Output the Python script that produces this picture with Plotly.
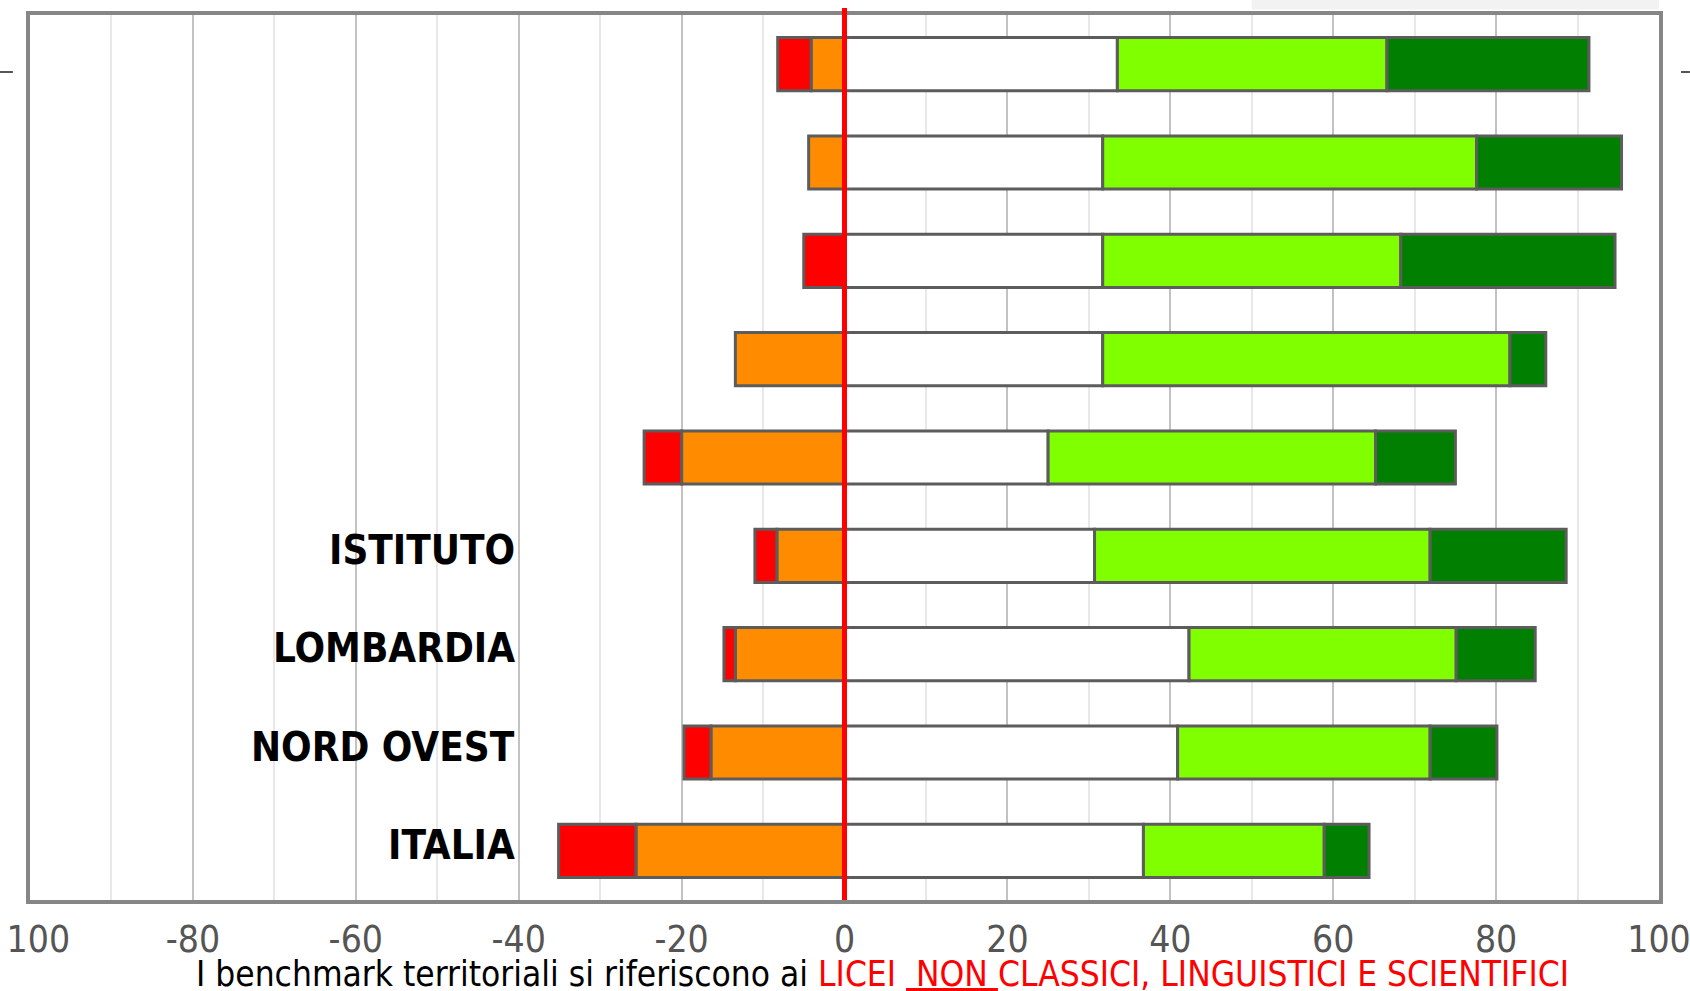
import plotly.graph_objects as go

# ---- data ----
categories = ["riga 1", "riga 2", "riga 3", "riga 4", "riga 5",
              "ISTITUTO", "LOMBARDIA", "NORD OVEST", "ITALIA"]
row_labels = ["", "", "", "", "", "ISTITUTO", "LOMBARDIA", "NORD OVEST", "ITALIA"]

red_neg    = [4.1, 0.0, 5.0, 0.0, 4.6, 2.7, 1.4, 3.3, 9.5]
orange_neg = [4.1, 4.4, 0.0, 13.4, 20.0, 8.3, 13.4, 16.4, 25.6]
white_pos  = [33.5, 31.7, 31.7, 31.7, 25.0, 30.7, 42.3, 40.9, 36.7]
lgreen_pos = [33.1, 45.9, 36.6, 50.0, 40.2, 41.2, 32.8, 31.0, 22.2]
dgreen_pos = [24.8, 17.8, 26.3, 4.4, 9.8, 16.7, 9.7, 8.2, 5.5]

tick_vals = [-100, -80, -60, -40, -20, 0, 20, 40, 60, 80, 100]
tick_text = ["\u2002100", "-80", "-60", "-40", "-20", "0", "20", "40", "60", "80", "100"]

footer_black = "I benchmark territoriali si riferiscono ai "
footer_red_a = "LICEI "
footer_red_u = " NON "
footer_red_b = "CLASSICI, LINGUISTICI E SCIENTIFICI"

NARROW = "Liberation Sans Narrow, Arial Narrow, DejaVu Sans Condensed, sans-serif"

def clean(vals, sign=1):
    return [sign * v if v else None for v in vals]

fig = go.Figure()
series = [
    ("arancio", clean(orange_neg, -1), "#FF8C00"),
    ("rosso", clean(red_neg, -1), "#FF0000"),
    ("bianco", clean(white_pos), "#FFFFFF"),
    ("verde chiaro", clean(lgreen_pos), "#80FF00"),
    ("verde scuro", clean(dgreen_pos), "#007F00"),
]
ypos = list(range(len(categories)))
for name, vals, col in series:
    fig.add_trace(go.Bar(
        name=name, y=ypos, x=vals, orientation="h",
        marker=dict(color=col, line=dict(color="#5c5c5c", width=3)),
        width=0.54, hoverinfo="skip", showlegend=False,
    ))

# category labels drawn inside plot area
for i, lab in enumerate(row_labels):
    if lab:
        fig.add_annotation(x=-40.2, y=i, text="<b>" + lab + "</b>", showarrow=False,
                           xanchor="right", yanchor="middle",
                           font=dict(family=NARROW, size=40, color="#000000"),
                           yshift=6)

# footer
fig.add_annotation(
    xref="paper", yref="paper", x=0.5, y=-0.0835, xanchor="center", yanchor="middle",
    showarrow=False,
    text=(footer_black + "<span style='color:#FF0000'>" + footer_red_a +
          "<u>" + footer_red_u + "</u>" + footer_red_b + "</span>"),
    font=dict(family=NARROW, size=35, color="#000000"),
    xshift=38,
)

shapes = [
    # red vertical line at zero
    dict(type="line", xref="x", yref="paper", x0=0, x1=0, y0=0, y1=1.008,
         line=dict(color="#FF0000", width=5), layer="above"),
    # small tick dashes at sides
    dict(type="line", xref="paper", yref="paper", x0=-0.0184, x1=-0.0105,
         y0=0.9356, y1=0.9356, line=dict(color="#555555", width=2)),
    dict(type="line", xref="paper", yref="paper", x0=1.0135, x1=1.019,
         y0=0.9356, y1=0.9356, line=dict(color="#555555", width=2)),
    # faint shadow top right
    dict(type="rect", xref="paper", yref="paper", x0=0.75, x1=1.0,
         y0=1.006, y1=1.017, fillcolor="rgba(0,0,0,0.05)", line=dict(width=0)),
]

fig.update_layout(
    width=1690, height=991,
    margin=dict(l=30, r=31, t=15, b=91, autoexpand=False),
    barmode="relative",
    plot_bgcolor="#FFFFFF", paper_bgcolor="#FFFFFF",
    shapes=shapes,
    xaxis=dict(
        range=[-100, 100], tickvals=tick_vals, ticktext=tick_text,
        showgrid=True, gridcolor="#c2c2c2", gridwidth=2,
        minor=dict(dtick=10, tick0=0, showgrid=True, gridcolor="#e8e8e8", gridwidth=2),
        zeroline=False, showline=True, mirror=True, linecolor="#868686", linewidth=4,
        ticks="", ticklabelstandoff=4, ticklabeloverflow="allow", automargin=False,
        tickfont=dict(family=NARROW, size=37, color="#555555"),
    ),
    yaxis=dict(
        range=[8.5, -0.5], showticklabels=False, showgrid=False, zeroline=False,
        showline=True, mirror=True, linecolor="#868686", linewidth=4, ticks="",
        automargin=False,
    ),
)

fig.write_html("out.html", config={"displayModeBar": False},
               post_script="document.body.style.margin='0';")
